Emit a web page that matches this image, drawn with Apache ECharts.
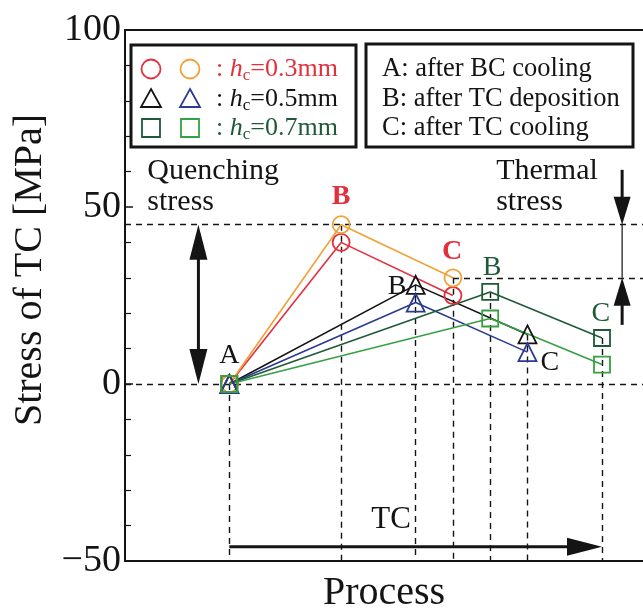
<!DOCTYPE html>
<html><head><meta charset="utf-8">
<script src="https://cdn.jsdelivr.net/npm/echarts@6/dist/echarts.min.js"></script>
<style>html,body{margin:0;padding:0;background:#fff}#c{width:643px;height:610px}</style>
</head><body><div id="c"></div>
<script>
// ---- data ----
const x03 = [0, 3, 6];        // process positions A,B,C for hc=0.3mm
const x05 = [0, 5, 8];        // hc=0.5mm
const x07 = [0, 7, 10];       // hc=0.7mm
const red03 = [0, 40, 25];
const orange03 = [0, 45, 30];
const black05 = [0, 28, 14];
const blue05 = [0, 23, 9];
const dkgreen07 = [0, 26, 13];
const green07 = [0, 18.5, 5.5];
const yTicks = [-50, 0, 50, 100];
const refLevels = [45, 30];   // quenching / thermal stress levels
const legendLabels = ['0.3mm', '0.5mm', '0.7mm'];
const defLabels = ['A: after BC cooling', 'B: after TC deposition', 'C: after TC cooling'];
// point labels: text, x, y
const ptText = ['A', 'B', 'C', 'B', 'C', 'B', 'C', 'TC'];
const ptX = [0, 3, 5.98, 4.5, 8.6, 7.05, 9.97, 4.34];
const ptY = [8, 53, 37.3, 27.4, 6, 33, 20, -38.4];

const RED = '#e2303c', ORANGE = '#f0a236', BLACK = '#141414', BLUE = '#2b3a92', DKG = '#1e5a38', GRN = '#38a040';
const ptColor = [BLACK, RED, RED, BLACK, BLACK, DKG, DKG, BLACK];
const ptWeight = ['normal', 'bold', 'bold', 'normal', 'normal', 'normal', 'normal', 'normal'];
const FONT = '"Liberation Serif","Times New Roman",serif';

const XMIN = -2.8, XMAX = 11.1;
const el = document.getElementById('c');
const chart = echarts.init(el, null, {renderer: 'canvas'});

const zip = (xs, ys) => xs.map((x, i) => [x, ys[i]]);
function lineSeries(xs, ys, color, symbol, size) {
  return {
    type: 'line', data: zip(xs, ys), symbol: symbol, symbolSize: size,
    itemStyle: {color: 'rgba(255,255,255,0)', borderColor: color, borderWidth: 1.8},
    lineStyle: {color: color, width: 1.6}, z: 5, emphasis: {disabled: true}, silent: true
  };
}
const allSeries = [[x03, red03], [x03, orange03], [x05, black05], [x05, blue05], [x07, dkgreen07], [x07, green07]];
const tops = {};
allSeries.forEach(([xs, ys]) => xs.forEach((x, i) => { tops[x] = Math.max(tops[x] === undefined ? -Infinity : tops[x], ys[i]); }));
const dashData = [
  [{coord: [XMIN, 0]}, {coord: [XMAX, 0]}],
  [{coord: [XMIN, refLevels[0]]}, {coord: [XMAX, refLevels[0]]}],
  [{coord: [x03[2], refLevels[1]]}, {coord: [XMAX, refLevels[1]]}]
];
Object.keys(tops).forEach(k => dashData.push([{coord: [+k, tops[k]]}, {coord: [+k, yTicks[0]]}]));

const option = {
  animation: false,
  grid: {left: 125, right: 0, top: 30, bottom: 49, outerBoundsMode: 'none', containLabel: false},
  xAxis: [{
    type: 'value', min: XMIN, max: XMAX,
    axisLine: {onZero: false, lineStyle: {color: BLACK, width: 2}},
    axisTick: {show: false}, axisLabel: {show: false}, splitLine: {show: false},
    name: 'Process', nameLocation: 'middle', nameGap: 12,
    nameTextStyle: {fontFamily: FONT, fontSize: 40, color: BLACK, verticalAlign: 'top'}
  }, {
    type: 'value', min: XMIN, max: XMAX, position: 'top',
    axisLine: {onZero: false, lineStyle: {color: BLACK, width: 2}},
    axisTick: {show: false}, axisLabel: {show: false}, splitLine: {show: false}
  }],
  yAxis: {
    type: 'value', min: yTicks[0], max: yTicks[yTicks.length - 1], interval: 50,
    axisLine: {show: true, onZero: false, lineStyle: {color: BLACK, width: 2}},
    axisTick: {inside: true, length: 8, lineStyle: {color: BLACK, width: 1.5}},
    minorTick: {show: true, splitNumber: 5, length: 6, lineStyle: {color: BLACK, width: 1.2}},
    axisLabel: {fontFamily: FONT, fontSize: 38, color: BLACK, margin: 4,
      formatter: v => String(v).replace('-', '\u2212')},
    splitLine: {show: false}
  },
  series: [
    {type: 'line', data: [], markLine: {silent: true, symbol: ['none', 'none'], label: {show: false},
      lineStyle: {type: [6, 5], color: BLACK, width: 1.4}, data: dashData}, z: 1},
    lineSeries(x03, red03, RED, 'circle', 17),
    lineSeries(x03, orange03, ORANGE, 'circle', 17),
    lineSeries(x05, black05, BLACK, 'triangle', 18),
    lineSeries(x05, blue05, BLUE, 'triangle', 18),
    lineSeries(x07, dkgreen07, DKG, 'rect', 16),
    lineSeries(x07, green07, GRN, 'rect', 16)
  ]
};
chart.setOption(option);

const px = (x, y) => chart.convertToPixel({gridIndex: 0}, [x, y]);
const g = [];
function arrow(a, b, opt) {
  const p1 = px(a[0], a[1]), p2 = px(b[0], b[1]);
  const dx = p2[0] - p1[0], dy = p2[1] - p1[1], L = Math.hypot(dx, dy);
  const ux = dx / L, uy = dy / L, nx = -uy, ny = ux;
  const hl = opt.hl || 34, hw = (opt.hw || 16) / 2;
  let s = p1.slice(), e = p2.slice();
  if (opt.start) s = [p1[0] + ux * hl * 0.8, p1[1] + uy * hl * 0.8];
  if (opt.end) e = [p2[0] - ux * hl * 0.8, p2[1] - uy * hl * 0.8];
  g.push({type: 'line', shape: {x1: s[0], y1: s[1], x2: e[0], y2: e[1]}, style: {stroke: BLACK, lineWidth: opt.w || 3}, z: 10});
  const head = (tip, dirx, diry) => g.push({type: 'polygon', z: 10, shape: {points: [
    tip, [tip[0] - dirx * hl + nx * hw, tip[1] - diry * hl + ny * hw], [tip[0] - dirx * hl - nx * hw, tip[1] - diry * hl - ny * hw]]},
    style: {fill: BLACK}});
  if (opt.end) head(p2, ux, uy);
  if (opt.start) head(p1, -ux, -uy);
}
arrow([-0.83, 0], [-0.83, refLevels[0]], {start: true, end: true, hl: 35, hw: 18, w: 3});
arrow([10.54, 60.5], [10.54, refLevels[0]], {end: true, hl: 28, hw: 17, w: 3});
arrow([10.54, 16.7], [10.54, refLevels[1]], {end: true, hl: 28, hw: 17, w: 3});
arrow([10.54, refLevels[0]], [10.54, refLevels[1]], {w: 1.2});
arrow([0, -46], [10, -46], {end: true, hl: 35, hw: 18, w: 3});

// point labels
ptText.forEach((t, i) => {
  const p = px(ptX[i], ptY[i]);
  g.push({type: 'text', z: 12, style: {text: t, x: p[0], y: p[1], fontFamily: FONT, fontSize: i === 7 ? 31 : 28,
    fontWeight: ptWeight[i], fill: ptColor[i], align: 'center', verticalAlign: 'middle'}});
});

// annotation texts
const tq = px(-2.2, 60), tt = px(7.16, 60);
g.push({type: 'text', z: 10, style: {text: 'Quenching\nstress', x: tq[0], y: tq[1] - 16, fontFamily: FONT, fontSize: 30, lineHeight: 31, fill: BLACK, align: 'left', verticalAlign: 'top'}});
g.push({type: 'text', z: 10, style: {text: 'Thermal\nstress', x: tt[0], y: tt[1] - 16, fontFamily: FONT, fontSize: 30, lineHeight: 31, fill: BLACK, align: 'left', verticalAlign: 'top'}});
// y axis title
g.push({type: 'text', z: 10, rotation: Math.PI / 2, x: 30, y: 270, style: {text: 'Stress of TC [MPa]', x: 0, y: 0, fontFamily: FONT, fontSize: 40, fill: BLACK, align: 'center', verticalAlign: 'middle'}});

// legend box 1
g.push({type: 'rect', z: 10, shape: {x: 131, y: 45, width: 225, height: 102}, style: {fill: '#fff', stroke: BLACK, lineWidth: 3}});
const rowsY = [69, 99, 128];
const legCol = [[RED, ORANGE], [BLACK, BLUE], [DKG, GRN]];
const txtCol = [RED, BLACK, DKG];
rowsY.forEach((y, r) => {
  [151, 190].forEach((x, k) => {
    const c = legCol[r][k];
    if (r === 0) g.push({type: 'circle', z: 11, shape: {cx: x, cy: y, r: 9.5}, style: {fill: 'none', stroke: c, lineWidth: 1.8}});
    else if (r === 1) g.push({type: 'polygon', z: 11, shape: {points: [[x, y - 10], [x + 10, y + 8], [x - 10, y + 8]]}, style: {fill: 'none', stroke: c, lineWidth: 1.8}});
    else g.push({type: 'rect', z: 11, shape: {x: x - 9, y: y - 9, width: 18, height: 18}, style: {fill: 'none', stroke: c, lineWidth: 1.8}});
  });
  g.push({type: 'text', z: 11, style: {text: ': {i|h}{s|c}=' + legendLabels[r], x: 216, y: y, fontFamily: FONT, fontSize: 26, fill: txtCol[r], align: 'left', verticalAlign: 'middle',
    rich: {i: {fontStyle: 'italic', fontFamily: FONT, fontSize: 26, fill: txtCol[r]},
           s: {fontFamily: FONT, fontSize: 17, fill: txtCol[r], padding: [14, 0, 0, 0], verticalAlign: 'bottom'}}}});
});
// legend box 2
g.push({type: 'rect', z: 10, shape: {x: 366, y: 44, width: 267, height: 103}, style: {fill: '#fff', stroke: BLACK, lineWidth: 3}});
defLabels.forEach((t, r) => g.push({type: 'text', z: 11, style: {text: t, x: 382, y: rowsY[r], fontFamily: FONT, fontSize: 26.5, fill: BLACK, align: 'left', verticalAlign: 'middle'}}));

chart.setOption({graphic: g});
</script></body></html>
